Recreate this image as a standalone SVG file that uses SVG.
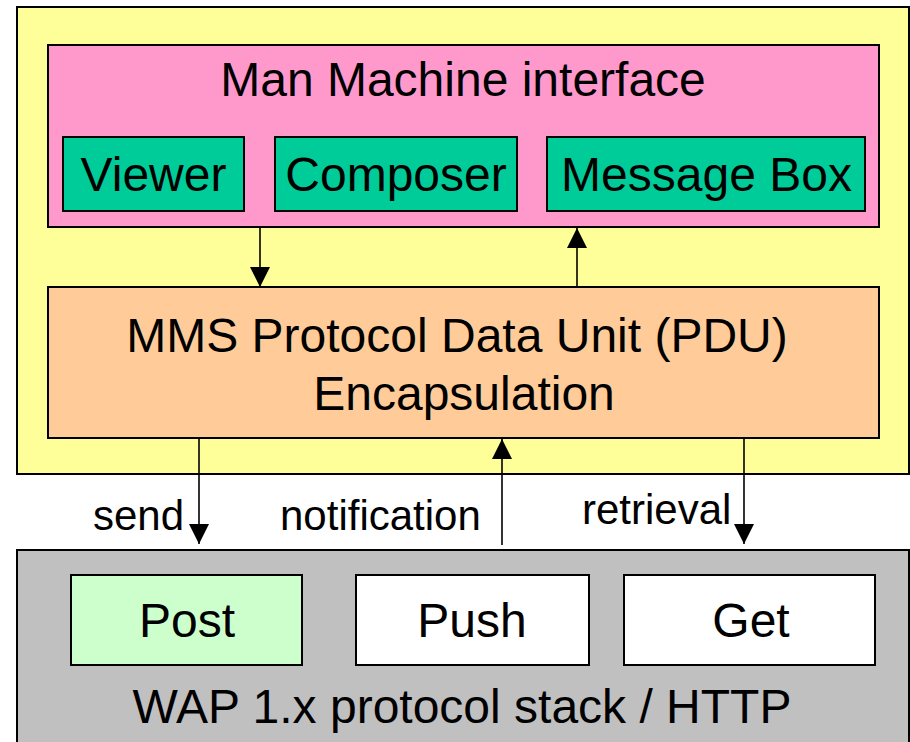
<svg xmlns="http://www.w3.org/2000/svg" width="910" height="742" viewBox="0 0 910 742">
<style>
.box{stroke:#000;stroke-width:2}
.t{font-family:"Liberation Sans",Arial,sans-serif;font-size:48px;fill:#000;text-anchor:middle}
.s{font-family:"Liberation Sans",Arial,sans-serif;font-size:42px;fill:#000}
.c{stroke:#000;stroke-width:1.6;fill:none}
</style>
<defs>
<marker id="ah" viewBox="0 0 20 20" refX="20" refY="10" markerWidth="20" markerHeight="20" markerUnits="userSpaceOnUse" orient="auto">
<path d="M0,0 L20,10 L0,20 Z" fill="#000"/>
</marker>
</defs>
<rect width="910" height="742" fill="#fff"/>
<g id="terminal">
<rect class="box" x="17" y="7" width="892" height="467" fill="#FFFF99"/>
</g>
<g id="mmi">
<rect class="box" x="48" y="45" width="831" height="182" fill="#FF99CC"/>
<text class="t" x="463" y="96">Man Machine interface</text>
</g>
<g id="viewer">
<rect class="box" x="63" y="137" width="181" height="74" fill="#00CC99"/>
<text class="t" x="153.5" y="191">Viewer</text>
</g>
<g id="composer">
<rect class="box" x="275" y="137" width="242" height="74" fill="#00CC99"/>
<text class="t" x="396" y="191">Composer</text>
</g>
<g id="messagebox">
<rect class="box" x="547" y="137" width="318" height="74" fill="#00CC99"/>
<text class="t" x="706.5" y="191">Message Box</text>
</g>
<g id="pdu">
<rect class="box" x="48" y="287" width="831" height="151" fill="#FFCC99"/>
<text class="t" x="457" y="352">MMS Protocol Data Unit (PDU)</text>
<text class="t" x="464" y="410">Encapsulation</text>
</g>
<g id="wap">
<rect class="box" x="17" y="550" width="892" height="200" fill="#C0C0C0"/>
<text class="t" x="462" y="723">WAP 1.x protocol stack / HTTP</text>
</g>
<g id="post">
<rect class="box" x="71" y="575" width="231" height="90" fill="#CCFFCC"/>
<text class="t" x="187" y="637">Post</text>
</g>
<g id="push">
<rect class="box" x="356" y="575" width="233" height="90" fill="#fff"/>
<text class="t" x="472" y="637">Push</text>
</g>
<g id="get">
<rect class="box" x="624" y="575" width="251" height="90" fill="#fff"/>
<text class="t" x="751" y="637">Get</text>
</g>
<g id="connectors">
<line class="c" x1="260" y1="227" x2="260" y2="287" marker-end="url(#ah)"/>
<line class="c" x1="577" y1="287" x2="577" y2="228" marker-end="url(#ah)"/>
<line class="c" x1="199" y1="438" x2="199" y2="544" marker-end="url(#ah)"/>
<line class="c" x1="502" y1="545" x2="502" y2="439" marker-end="url(#ah)"/>
<line class="c" x1="744" y1="438" x2="744" y2="544" marker-end="url(#ah)"/>
<text class="s" x="93" y="530">send</text>
<text class="s" x="280" y="530">notification</text>
<text class="s" x="582" y="524">retrieval</text>
</g>
</svg>
